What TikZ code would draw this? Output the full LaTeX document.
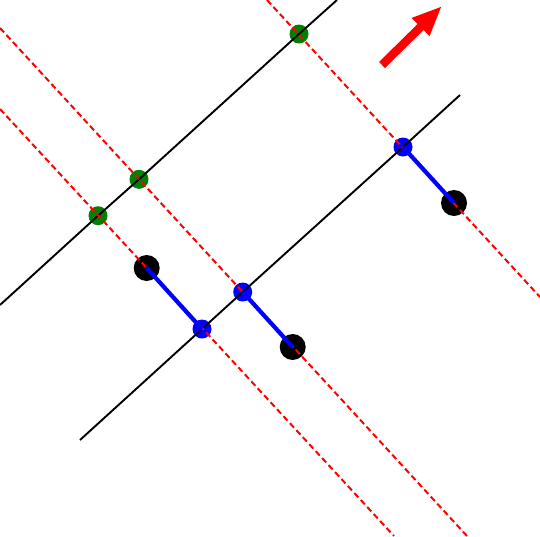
\documentclass[tikz,border=0pt]{standalone}
\usetikzlibrary{arrows.meta}
\definecolor{dgreen}{RGB}{0,128,0}
\tikzset{
  gdot/.style={circle, fill=dgreen, inner sep=0pt, minimum size=19pt},
  bdot/.style={circle, fill=blue, inner sep=0pt, minimum size=19pt},
  kdot/.style={circle, fill=black, inner sep=0pt, minimum size=26pt},
  axisline/.style={black, line width=1.9pt},
  proj/.style={red, line width=2pt, dash pattern=on 6pt off 3.5pt},
  seg/.style={blue, line width=4.2pt},
  dirarrow/.style={red, line width=8.5pt, -{Triangle[length=30pt,width=23pt]}}
}
\begin{document}
\begin{tikzpicture}[x=1pt,y=-1pt]
\useasboundingbox (0,0) rectangle (540,536);
\clip (0,0) rectangle (540,536);
% dots
\node[gdot] (g1) at (98,215.7) {};
\node[gdot] (g2) at (139,179.3) {};
\node[gdot] (g3) at (299,34) {};
\node[kdot] (k1) at (146.7,268) {};
\node[kdot] (k2) at (292.7,347) {};
\node[kdot] (k3) at (454,203) {};
\node[bdot] (b1) at (202,329) {};
\node[bdot] (b2) at (242.7,292) {};
\node[bdot] (b3) at (403,147) {};
% line end points
\coordinate (l1a) at (0,305);
\coordinate (l1b) at (337,0);
\coordinate (l2a) at (80,440);
\coordinate (l2b) at (460,95);
\coordinate (ra) at (0,109);
\coordinate (rae) at (394,536);
\coordinate (rb) at (0,28);
\coordinate (rbe) at (467,536);
\coordinate (rc) at (267,0);
\coordinate (rce) at (540,297);
% black lines
\draw[axisline] (l1a) -- (g1.center) -- (g2.center) -- (g3.center) -- (l1b);
\draw[axisline] (l2a) -- (b1.center) -- (b2.center) -- (b3.center) -- (l2b);
% red dashed projections
\draw[proj] (ra) -- (rae);
\draw[proj] (rb) -- (rbe);
\draw[proj] (rc) -- (rce);
% blue segments
\draw[seg] (k1.center) -- (b1.center);
\draw[seg] (b2.center) -- (k2.center);
\draw[seg] (b3.center) -- (k3.center);
% direction arrow
\coordinate (at) at (382,65);
\coordinate (ah) at (442,6);
\draw[dirarrow] (at) -- (ah);
\end{tikzpicture}
\end{document}
